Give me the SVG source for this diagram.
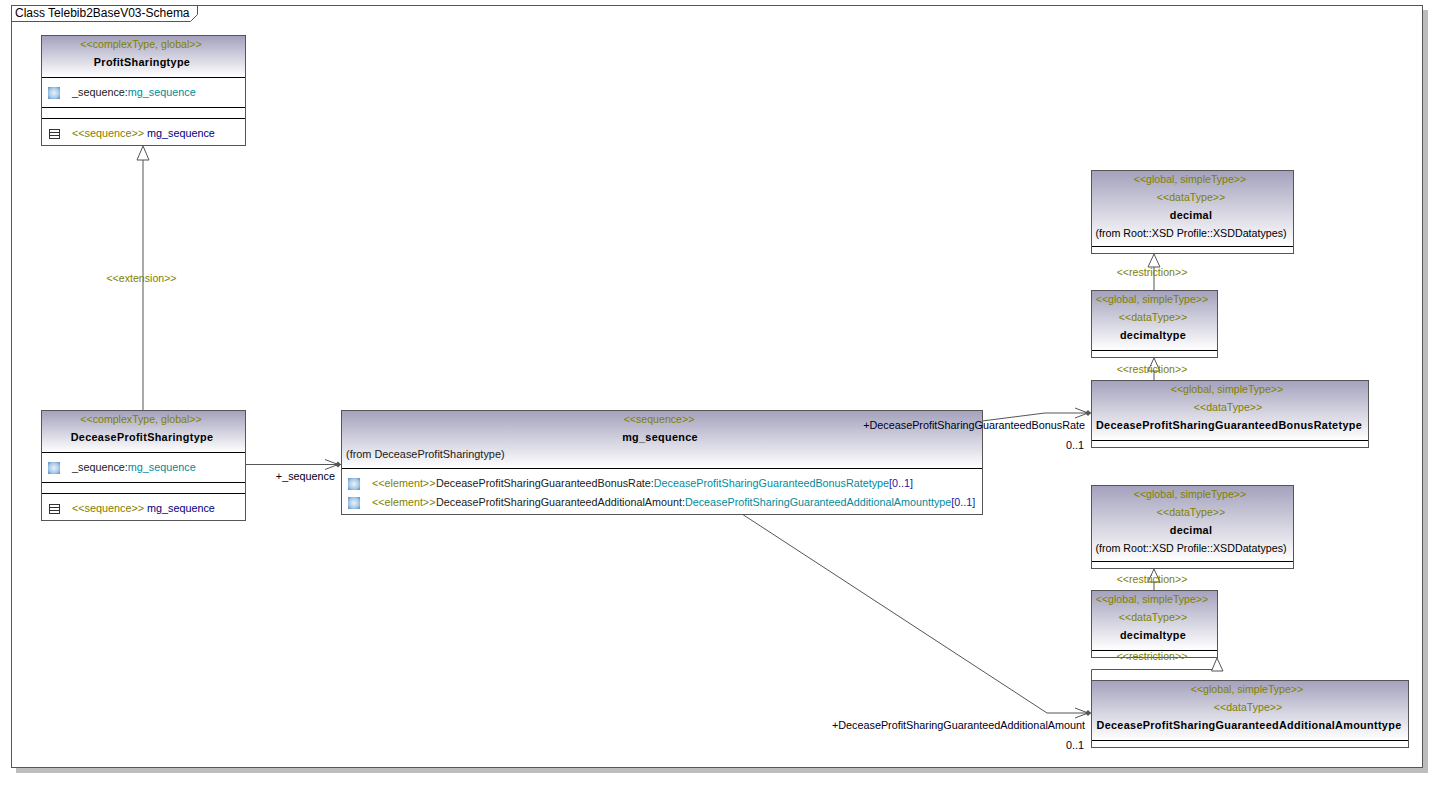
<svg xmlns="http://www.w3.org/2000/svg" width="1449" height="788" viewBox="0 0 1449 788">
<style>
text{font-family:"Liberation Sans",Arial,sans-serif;font-size:10.8px;fill:#000}
.b{font-weight:bold;text-anchor:middle;letter-spacing:.34px}
.s{fill:#808000;text-anchor:middle;font-size:10.6px}
.o{fill:#808000}
.t{fill:#008b9b}
.n{fill:#000080}
.d{fill:#202020}
.m{text-anchor:middle;fill:#000;font-size:10.7px}
.e{text-anchor:end;fill:#000020}
.el{font-size:10.78px}
.box{fill:#fff;stroke:#555;stroke-width:1}
.hd{fill:url(#g)}
.dv{stroke:#000;stroke-width:1;fill:none}
.ln{stroke:#555;stroke-width:1;fill:none}
.tri{stroke:#555;stroke-width:1;fill:#fff}
</style>
<defs>
<linearGradient id="g" x1="0" y1="0" x2="0" y2="1"><stop offset="0" stop-color="#a4a2bd"/><stop offset="1" stop-color="#ffffff"/></linearGradient>
<radialGradient id="ic" cx="0.5" cy="0.5" r="0.7"><stop offset="0" stop-color="#e8f2fa"/><stop offset="0.6" stop-color="#a6c8e6"/><stop offset="1" stop-color="#4f8ec6"/></radialGradient>
<g id="attr"><rect x="0" y="0" width="12" height="12" fill="url(#ic)"/></g>
<g id="op"><rect x="0.5" y="0.5" width="10" height="9" fill="#fff" stroke="#333"/><path d="M0.5 3.5H10.5M0.5 6.5H10.5" stroke="#333" fill="none"/></g>
<g id="end"><path d="M-16 -5L-3 0L-16 5" fill="none" stroke="#555"/><path d="M-6 0L-3 -3L0 0L-3 3Z" fill="#555" stroke="none"/></g>
</defs>
<rect x="16" y="10" width="1412" height="763" fill="#bdbdbd"/>
<g id="frame">
<rect x="11.500" y="5.500" width="1411" height="762" fill="#fff" stroke="#555"/>
<path d="M11.500 21.500H190.500L197.500 14.500V5.500" fill="none" stroke="#555"/>
<text x="15" y="17" style="font-size:12px">Class Telebib2BaseV03-Schema</text>
</g>
<g id="connectors">
<path class="ln" d="M143 410V159"/>
<path class="tri" d="M143 146L137 160H149Z"/>
<path class="ln" d="M246 464.500H341"/>
<use href="#end" x="341" y="464.500"/>
<path class="ln" d="M982 421L1045 413H1091"/>
<use href="#end" x="1091" y="413"/>
<path class="ln" d="M742 514L1047 713H1091"/>
<use href="#end" x="1091" y="713"/>
<path class="ln" d="M1154 290V266"/>
<path class="tri" d="M1154 254L1148 267H1160Z"/>
<path class="ln" d="M1154 380V371"/>
<path class="tri" d="M1154 358L1148 371H1160Z"/>
<path class="ln" d="M1154 590V581"/>
<path class="tri" d="M1154 569L1148 582H1160Z"/>
<path class="ln" d="M1091.500 680V669.500H1212"/>
<path class="tri" d="M1217 658L1211.500 671H1223Z"/>
</g>
<g id="ProfitSharingtype">
<rect class="box" x="41.500" y="35.500" width="204" height="110"/>
<rect class="hd" x="42" y="36" width="203" height="41"/>
<path class="dv" d="M42 77.500H245M42 107.500H245M42 118.500H245"/>
<text class="s" x="141" y="48">&lt;&lt;complexType, global&gt;&gt;</text>
<text class="b" x="142" y="66">ProfitSharingtype</text>
<use href="#attr" x="48" y="87"/>
<text x="72" y="96"><tspan class="d">_sequence:</tspan><tspan class="t">mg_sequence</tspan></text>
<use href="#op" x="49" y="129"/>
<text x="72" y="137"><tspan class="o">&lt;&lt;sequence&gt;&gt; </tspan><tspan class="n">mg_sequence</tspan></text>
</g>
<g id="DeceaseProfitSharingtype">
<rect class="box" x="41.500" y="410.500" width="204" height="110"/>
<rect class="hd" x="42" y="411" width="203" height="41"/>
<path class="dv" d="M42 452.500H245M42 482.500H245M42 493.500H245"/>
<text class="s" x="141" y="423">&lt;&lt;complexType, global&gt;&gt;</text>
<text class="b" x="142" y="441">DeceaseProfitSharingtype</text>
<use href="#attr" x="48" y="462"/>
<text x="72" y="471"><tspan class="d">_sequence:</tspan><tspan class="t">mg_sequence</tspan></text>
<use href="#op" x="49" y="504"/>
<text x="72" y="512"><tspan class="o">&lt;&lt;sequence&gt;&gt; </tspan><tspan class="n">mg_sequence</tspan></text>
</g>
<g id="mg_sequence">
<rect class="box" x="341.500" y="410.500" width="641" height="104"/>
<rect class="hd" x="342" y="411" width="640" height="57"/>
<path class="dv" d="M342 468.500H982"/>
<text class="s" x="659" y="423">&lt;&lt;sequence&gt;&gt;</text>
<text class="b" x="660" y="441">mg_sequence</text>
<text x="346" y="458" class="d" style="font-size:10.9px">(from DeceaseProfitSharingtype)</text>
<use href="#attr" x="348" y="478"/>
<text class="el" x="372" y="487"><tspan class="o">&lt;&lt;element&gt;&gt; </tspan><tspan class="d" x="436">DeceaseProfitSharingGuaranteedBonusRate:</tspan><tspan class="t">DeceaseProfitSharingGuaranteedBonusRatetype</tspan><tspan fill="#2020a0">[0..1]</tspan></text>
<use href="#attr" x="348" y="497"/>
<text class="el" x="372" y="506"><tspan class="o">&lt;&lt;element&gt;&gt; </tspan><tspan class="d" x="436">DeceaseProfitSharingGuaranteedAdditionalAmount:</tspan><tspan class="t">DeceaseProfitSharingGuaranteedAdditionalAmounttype</tspan><tspan fill="#2020a0">[0..1]</tspan></text>
</g>
<g id="decimal1">
<rect class="box" x="1091.500" y="170.500" width="202" height="83"/>
<rect class="hd" x="1092" y="171" width="201" height="75"/>
<path class="dv" d="M1092 246.500H1293"/>
<text class="s" x="1190" y="183">&lt;&lt;global, simpleType&gt;&gt;</text>
<text class="s" x="1191" y="201">&lt;&lt;dataType&gt;&gt;</text>
<text class="b" x="1191" y="219">decimal</text>
<text class="m" x="1191" y="237">(from Root::XSD Profile::XSDDatatypes)</text>
</g>
<g id="decimaltype1">
<rect class="box" x="1091.500" y="290.500" width="126" height="67"/>
<rect class="hd" x="1092" y="291" width="125" height="59"/>
<path class="dv" d="M1092 350.500H1217"/>
<text class="s" x="1152" y="303">&lt;&lt;global, simpleType&gt;&gt;</text>
<text class="s" x="1153" y="321">&lt;&lt;dataType&gt;&gt;</text>
<text class="b" x="1153" y="339">decimaltype</text>
</g>
<g id="BonusRatetype">
<rect class="box" x="1091.500" y="380.500" width="277" height="67"/>
<rect class="hd" x="1092" y="381" width="276" height="59"/>
<path class="dv" d="M1092 440.500H1368"/>
<text class="s" x="1227" y="393">&lt;&lt;global, simpleType&gt;&gt;</text>
<text class="s" x="1228" y="411">&lt;&lt;dataType&gt;&gt;</text>
<text class="b" x="1229" y="429">DeceaseProfitSharingGuaranteedBonusRatetype</text>
</g>
<g id="decimal2">
<rect class="box" x="1091.500" y="485.500" width="202" height="83"/>
<rect class="hd" x="1092" y="486" width="201" height="75"/>
<path class="dv" d="M1092 561.500H1293"/>
<text class="s" x="1190" y="498">&lt;&lt;global, simpleType&gt;&gt;</text>
<text class="s" x="1191" y="516">&lt;&lt;dataType&gt;&gt;</text>
<text class="b" x="1191" y="534">decimal</text>
<text class="m" x="1191" y="552">(from Root::XSD Profile::XSDDatatypes)</text>
</g>
<g id="decimaltype2">
<rect class="box" x="1091.500" y="590.500" width="126" height="67"/>
<rect class="hd" x="1092" y="591" width="125" height="59"/>
<path class="dv" d="M1092 650.500H1217"/>
<text class="s" x="1152" y="603">&lt;&lt;global, simpleType&gt;&gt;</text>
<text class="s" x="1153" y="621">&lt;&lt;dataType&gt;&gt;</text>
<text class="b" x="1153" y="639">decimaltype</text>
</g>
<g id="AdditionalAmounttype">
<rect class="box" x="1091.500" y="680.500" width="317" height="67"/>
<rect class="hd" x="1092" y="681" width="316" height="59"/>
<path class="dv" d="M1092 740.500H1408"/>
<text class="s" x="1247" y="693">&lt;&lt;global, simpleType&gt;&gt;</text>
<text class="s" x="1248" y="711">&lt;&lt;dataType&gt;&gt;</text>
<text class="b" x="1249" y="729">DeceaseProfitSharingGuaranteedAdditionalAmounttype</text>
</g>
<g id="labels">
<text class="s" x="141.500" y="282">&lt;&lt;extension&gt;&gt;</text>
<text class="e" x="335" y="480">+_sequence</text>
<text class="e" x="1085" y="429">+DeceaseProfitSharingGuaranteedBonusRate</text>
<text class="e" x="1084" y="449">0..1</text>
<text class="e" x="1085" y="729">+DeceaseProfitSharingGuaranteedAdditionalAmount</text>
<text class="e" x="1084" y="749">0..1</text>
<text class="s" x="1152" y="276">&lt;&lt;restriction&gt;&gt;</text>
<text class="s" x="1152" y="373">&lt;&lt;restriction&gt;&gt;</text>
<text class="s" x="1152" y="583">&lt;&lt;restriction&gt;&gt;</text>
<text class="s" x="1152" y="660">&lt;&lt;restriction&gt;&gt;</text>
</g>
</svg>
